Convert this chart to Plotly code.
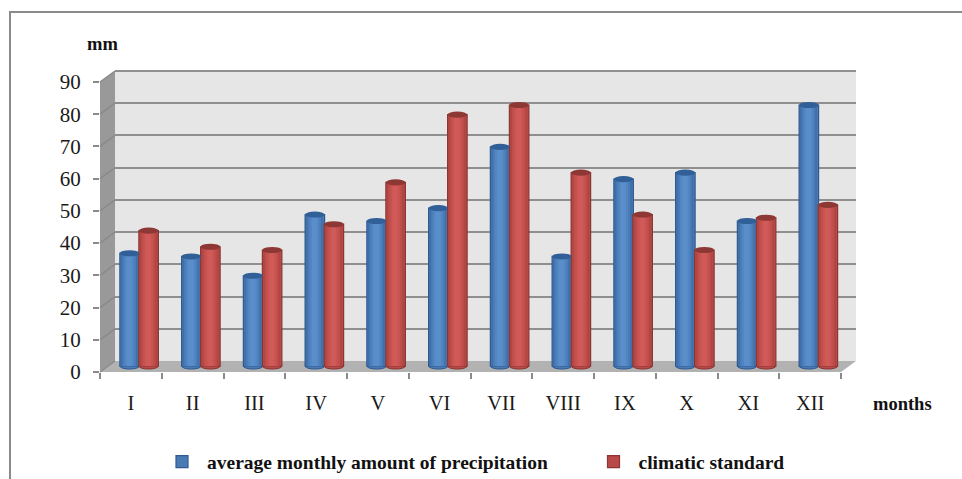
import plotly.graph_objects as go

months = ["I","II","III","IV","V","VI","VII","VIII","IX","X","XI","XII"]
precip = [35,34,28,47,45,49,68,34,58,60,45,81]
climate = [42,37,36,44,57,78,81,60,47,36,46,50]
y_ticks = list(range(0,100,10))
name_precip = "average monthly amount of precipitation"
name_climate = "climatic standard"

W,H = 962,479
SERIF = "Liberation Serif"
def px(x): return x/W
def py(y): return 1-y/H

F_L,F_R,F_B,F_T = 100,841,372,82      # front plane
DX,DY = 15,-11                         # depth
M_DX,M_DY = 7.5,-6                     # plane holding the columns
BAR_W = 0.316
BELOW = 3                              # room under zero for the rounded column feet

def poly(pts, fill):
    d = "M"+" L".join(f"{px(x):.5f},{py(y):.5f}" for x,y in pts)+" Z"
    return dict(type="path", path=d, xref="paper", yref="paper", fillcolor=fill,
                line=dict(width=0), layer="below")

shapes = [
    poly([(F_L,F_T),(F_L+DX,F_T+DY),(F_L+DX,F_B+DY),(F_L,F_B)], "#999999"),
    poly([(F_L+DX,F_T+DY),(F_R+DX,F_T+DY),(F_R+DX,F_B+DY),(F_L+DX,F_B+DY)], "#e6e6e6"),
    poly([(F_L,F_B),(F_R,F_B),(F_R+DX,F_B+DY),(F_L+DX,F_B+DY)], "#b2b2b2"),
    # top edge of the back wall
    dict(type="line", xref="paper", yref="paper", x0=px(F_L+DX), x1=px(F_R+DX), y0=py(F_T+DY), y1=py(F_T+DY),
         line=dict(color="#8f8f8f", width=2), layer="below"),
    # page frame
    dict(type="line", xref="paper", yref="paper", x0=px(10), x1=1, y0=py(12), y1=py(12),
         line=dict(color="#8a8a8a", width=2), layer="below"),
    dict(type="line", xref="paper", yref="paper", x0=px(10), x1=px(10), y0=py(11), y1=0,
         line=dict(color="#8a8a8a", width=2), layer="below"),
]
step = (F_B-F_T)/90
for t in y_ticks:
    yy = F_B - t*step
    shapes.append(dict(type="line", xref="paper", yref="paper", x0=px(F_L), x1=px(F_L+DX),
                       y0=py(yy), y1=py(yy+DY), line=dict(color="#8a8a8a", width=1.5), layer="below"))

fig = go.Figure()

# invisible carrier so the front axes draw their category ticks
fig.add_trace(go.Scatter(x=months, y=precip, mode="none", showlegend=False, hoverinfo="skip",
                         xaxis="x", yaxis="y"))
fig.add_trace(go.Scatter(x=months, y=precip, mode="none", showlegend=False, hoverinfo="skip",
                         xaxis="x2", yaxis="y2"))

def cylinder(values, name, legend, off, base, edge, cap, shades):
    # floor ellipse and full-width column
    for i,v in enumerate(values):
        shapes.append(dict(type="circle", xref="x3", yref="y3", layer="between",
                           x0=i+off, x1=i+off+BAR_W, y0=-0.95, y1=0.95,
                           fillcolor=base, line=dict(color=edge, width=1)))
    fig.add_trace(go.Bar(x=months, y=values, name=name, legend=legend, offset=off, width=BAR_W,
                         marker=dict(color=base, line=dict(color=edge, width=1.2)),
                         xaxis="x3", yaxis="y3", hoverinfo="skip"))
    for frac,col in shades:
        w = BAR_W*frac
        fig.add_trace(go.Bar(x=months, y=values, offset=off+(BAR_W-w)/2-0.006, width=w,
                             marker=dict(color=col, line=dict(width=0)), showlegend=False,
                             xaxis="x3", yaxis="y3", hoverinfo="skip"))
    for i,v in enumerate(values):
        shapes.append(dict(type="circle", xref="x3", yref="y3", layer="above",
                           x0=i+off, x1=i+off+BAR_W, y0=v-0.95, y1=v+0.95,
                           fillcolor=cap, line=dict(width=0)))

cylinder(precip, name_precip, "legend", -0.30, "#4a7ab5", "#2f5a8f", "#315f97",
         [(0.86,"#3f6fa8"),(0.70,"#4a7cb8"),(0.50,"#5286c3"),(0.28,"#5a8ecb")])
cylinder(climate, name_climate, "legend2", 0.008, "#b94a48", "#8a3634", "#8e3836",
         [(0.86,"#ae4643"),(0.70,"#bf4e4b"),(0.50,"#c85350"),(0.28,"#cf5a57")])

legend_font = dict(family=SERIF, size=19.5, color="#111111", weight="bold")
fig.update_layout(
    width=W, height=H, margin=dict(l=0,r=0,t=0,b=0,autoexpand=False), autosize=False,
    paper_bgcolor="white", plot_bgcolor="rgba(0,0,0,0)", barmode="overlay",
    shapes=shapes, showlegend=True,
    font=dict(family=SERIF),
    xaxis=dict(domain=[px(F_L),px(F_R)], anchor="y", type="category", categoryorder="array",
               categoryarray=months, tickson="boundaries", ticks="outside", ticklen=6, tickwidth=2,
               tickcolor="#8a8a8a", showline=False, showgrid=False, zeroline=False,
               tickfont=dict(family=SERIF, size=20.5, color="#1a1a1a"), ticklabelstandoff=16,
               range=[-0.5,11.5], fixedrange=True),
    yaxis=dict(domain=[py(F_B),py(F_T)], anchor="x", range=[0,90], tickvals=y_ticks, ticks="outside",
               ticklen=6, tickwidth=2, tickcolor="#8a8a8a", showgrid=False, zeroline=False,
               showline=False, tickfont=dict(family=SERIF, size=21, color="#1a1a1a"),
               ticklabelstandoff=8, fixedrange=True),
    xaxis2=dict(domain=[px(F_L+DX),px(F_R+DX)], anchor="y2", type="category", categoryorder="array",
                categoryarray=months, visible=False, range=[-0.5,11.5], fixedrange=True),
    yaxis2=dict(domain=[py(F_B+DY),py(F_T+DY)], anchor="x2", range=[0,90], tickvals=y_ticks,
                ticks="", showticklabels=False, showgrid=True, gridcolor="#8f8f8f", gridwidth=2,
                zeroline=False, showline=False, fixedrange=True),
    xaxis3=dict(domain=[px(F_L+M_DX),px(F_R+M_DX)], anchor="y3", type="category", categoryorder="array",
                categoryarray=months, visible=False, range=[-0.5,11.5], fixedrange=True),
    yaxis3=dict(domain=[py(F_B+M_DY+BELOW*step),py(F_T+M_DY)], anchor="x3", range=[-BELOW,90],
                visible=False, fixedrange=True),
    legend=dict(orientation="h", x=px(157), xanchor="left", y=py(462), yanchor="middle",
                bgcolor="rgba(0,0,0,0)", font=legend_font, itemwidth=40,
                itemclick=False, itemdoubleclick=False),
    legend2=dict(orientation="h", x=px(588.5), xanchor="left", y=py(462), yanchor="middle",
                 bgcolor="rgba(0,0,0,0)", font=legend_font, itemwidth=40,
                 itemclick=False, itemdoubleclick=False),
    annotations=[
        dict(text="<b>mm</b>", xref="paper", yref="paper", x=px(102), y=py(44), showarrow=False,
             xanchor="center", yanchor="middle", font=dict(family=SERIF, size=18.5, color="#111111")),
        dict(text="<b>months</b>", xref="paper", yref="paper", x=px(902), y=py(404), showarrow=False,
             xanchor="center", yanchor="middle", font=dict(family=SERIF, size=18.5, color="#111111")),
    ],
)
fig.write_html("out.html", post_script="document.body.style.margin='0';", config={"displayModeBar":False})
